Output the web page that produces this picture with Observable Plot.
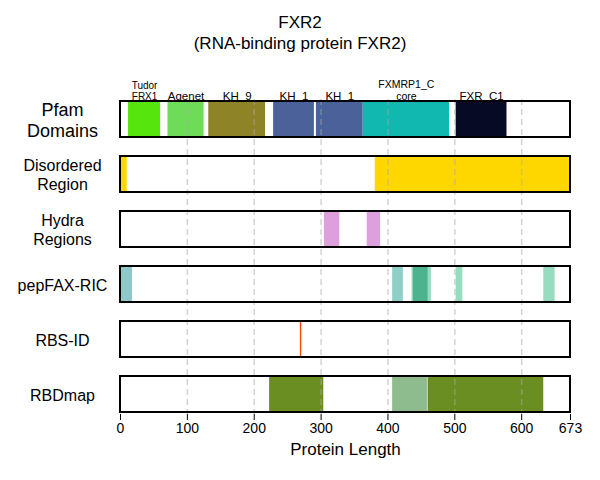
<!DOCTYPE html><html><head><meta charset="utf-8">
<script src="https://cdn.jsdelivr.net/npm/d3@7"></script>
<script src="https://cdn.jsdelivr.net/npm/@observablehq/plot@0.6"></script>
<style>body{margin:0;font-family:"Liberation Sans",Arial,sans-serif;background:#fff}
#t{height:55px;text-align:center;font-size:17px;line-height:21px;padding-top:12px;box-sizing:border-box}</style>
</head><body><div id="t">FXR2<br>(RNA-binding protein FXR2)</div><div id="c"></div>
<script>
const rows = ["Pfam","Disordered","Hydra","pepFAX","RBS","RBDmap"];
const rowLabels = ["Pfam\nDomains","Disordered\nRegion","Hydra\nRegions","pepFAX-RIC","RBS-ID","RBDmap"];
const rowFont = [18,16,16,16,16,16];
const proteinLength = 673;
const ticks = [0,100,200,300,400,500,600,673];
const domains = [
 {s:12,e:60,name:"Tudor\nFRX1",c:"#56e60e",fs:10},
 {s:71,e:125,name:"Agenet",c:"#6edc58",fs:11.5},
 {s:132,e:217,name:"KH_9",c:"#8f8328",fs:11.5},
 {s:229,e:290,name:"KH_1",c:"#4a6199",fs:11.5},
 {s:293,e:363,name:"KH_1",c:"#4a6199",fs:11.5},
 {s:363,e:492,name:"FXMRP1_C\ncore",c:"#10b8b0",fs:10.5},
 {s:502,e:578,name:"FXR_C1",c:"#060a25",fs:11.5}];
const disordered = [{s:0,e:10},{s:381,e:673}];
const hydra = [{s:305,e:328},{s:369,e:389}];
const pepfax = [
 {s:0,e:18,c:"#8fc8c8"},{s:407,e:423,c:"#8fcfc6"},{s:436,e:465,c:"#98dcbf"},
 {s:438,e:460,c:"#4db38e"},{s:502,e:512,c:"#98dcbf"},{s:633,e:650,c:"#98dcbf"}];
const rbs = [269,271];
const rbdmap = [{s:223,e:304,c:"#6b8e23"},{s:407,e:459,c:"#8fbc8f"},{s:460,e:633,c:"#6b8e23"}];

const W=600,H=425;
const plot = Plot.plot({
 width:W,height:H,marginLeft:120,marginRight:30,marginTop:44,marginBottom:66,
 style:{fontFamily:"Liberation Sans, Arial, sans-serif",fontSize:"14px",color:"black"},
 x:{domain:[0,proteinLength],axis:null},
 y:{domain:rows,paddingInner:0.34,paddingOuter:0,axis:null},
 marks:[
  Plot.rectX(domains,{x1:"s",x2:"e",y:()=>"Pfam",fill:"c"}),
  Plot.rectX(disordered,{x1:"s",x2:"e",y:()=>"Disordered",fill:"#ffd700"}),
  Plot.rectX(hydra,{x1:"s",x2:"e",y:()=>"Hydra",fill:"#dda0dd"}),
  Plot.rectX(pepfax,{x1:"s",x2:"e",y:()=>"pepFAX",fill:"c"}),
  Plot.rectX([{s:rbs[0],e:rbs[1]}],{x1:"s",x2:"e",y:()=>"RBS",fill:"#ff4500"}),
  Plot.rectX(rbdmap,{x1:"s",x2:"e",y:()=>"RBDmap",fill:"c"}),
  Plot.rectX(domains.slice(4,5),{x1:"s",x2:"s",y:()=>"Pfam",stroke:"white",strokeWidth:2}),
  Plot.rectX(rbdmap.slice(2,3),{x1:"s",x2:"s",y:()=>"RBDmap",stroke:"white",strokeWidth:1.5}),
  Plot.ruleX([100,200,300,400,500,600],{stroke:"#aaa",strokeOpacity:0.5,strokeWidth:1.5,strokeDasharray:"6,4"}),
  Plot.rectX(rows,{x1:0,x2:proteinLength,y:d=>d,fill:"none",stroke:"black",strokeWidth:2}),
  Plot.text(domains,{x:d=>(d.s+d.e)/2,y:()=>"Pfam",text:"name",fontSize:"fs",dy:-20,lineAnchor:"bottom",lineHeight:1.1,fill:"black"}),
  Plot.text(rows,{x:0,y:d=>d,text:(d,i)=>rowLabels[i],fontSize:(d,i)=>rowFont[i],dx:-58,textAnchor:"middle",lineHeight:1.2,fill:"black"}),
  Plot.axisX(ticks,{anchor:"bottom",tickSize:6,tickPadding:3,fontSize:14,label:null,tickFormat:d=>d}),
  Plot.text(["Protein Length"],{frameAnchor:"bottom",dy:40,fontSize:17,fill:"black"})
 ]});
document.getElementById("c").appendChild(plot);
</script></body></html>
